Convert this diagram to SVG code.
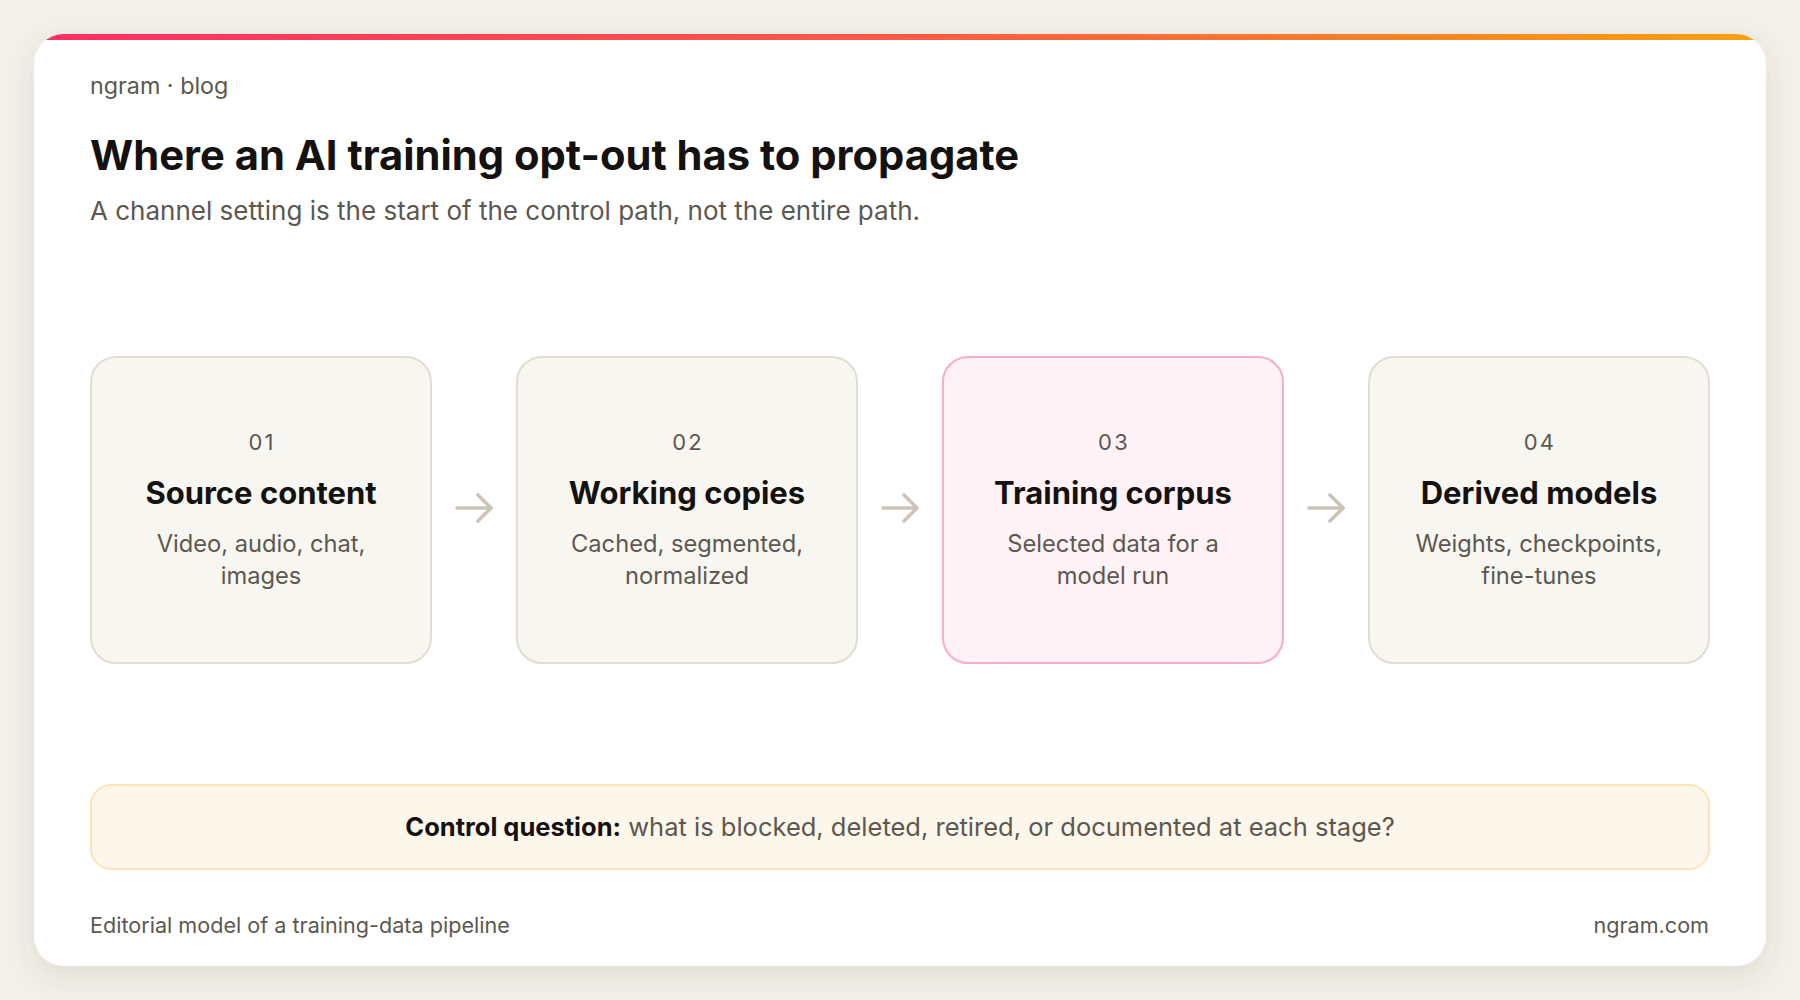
<svg xmlns="http://www.w3.org/2000/svg" width="1800" height="1000" viewBox="0 0 1800 1000">
  <defs>
    <linearGradient id="stripe" x1="0" y1="0" x2="1" y2="0">
      <stop offset="0" stop-color="#ff2d63"/>
      <stop offset="0.5" stop-color="#ff5a45"/>
      <stop offset="1" stop-color="#f7a10f"/>
    </linearGradient>
    <filter id="shadow" x="-10%" y="-10%" width="120%" height="130%">
      <feDropShadow dx="0" dy="10" stdDeviation="14" flood-color="#5a4a30" flood-opacity="0.12"/>
    </filter>
    <clipPath id="cardclip">
      <rect x="34" y="34" width="1732" height="932" rx="30"/>
    </clipPath>
    <marker id="arrowhead" viewBox="0 0 20 30" refX="16" refY="15" markerWidth="20" markerHeight="30" markerUnits="userSpaceOnUse" orient="auto">
      <path d="M3 2 L16 15 L3 28" fill="none" stroke="#cbc4b7" stroke-width="3.6" stroke-linecap="round" stroke-linejoin="round"/>
    </marker>
  </defs>
  <style>
    text { font-family: Inter, "Liberation Sans", "DejaVu Sans", sans-serif; }
    .brand { font-size: 23.3px; fill: #5c5850; }
    .title { font-size: 41.7px; font-weight: 700; fill: #141210; }
    .sub { font-size: 26px; fill: #5c5850; }
    .box { fill: #f8f6f1; stroke: #e2ddd4; stroke-width: 2; }
    .box.hl { fill: #fff2f6; stroke: #f9adc6; }
    .num { font-size: 22px; fill: #5c5850; text-anchor: middle; letter-spacing: 2.2px; }
    .ntitle { font-size: 31px; font-weight: 700; fill: #141210; text-anchor: middle; }
    .desc { font-size: 23.7px; fill: #5c5850; text-anchor: middle; }
    .conn { stroke: #cbc4b7; stroke-width: 3.6; stroke-linecap: round; fill: none; }
    .ctrl { fill: #fdf6ea; stroke: #fce3b8; stroke-width: 2; }
    .ctext { font-size: 25.5px; fill: #5c5850; text-anchor: middle; }
    .foot { font-size: 21.6px; fill: #5c5850; }
  </style>

  <rect x="0" y="0" width="1800" height="1000" fill="#f3f0ea"/>

  <g id="card">
    <rect x="34" y="34" width="1732" height="932" rx="30" fill="#ffffff" filter="url(#shadow)"/>
    <rect x="34" y="34" width="1732" height="6" fill="url(#stripe)" clip-path="url(#cardclip)"/>
  </g>

  <g id="header">
    <text class="brand" x="90" y="94">ngram · blog</text>
    <text class="title" x="90" y="170">Where an AI training opt-out has to propagate</text>
    <text class="sub" x="90" y="220">A channel setting is the start of the control path, not the entire path.</text>
  </g>

  <g id="connectors">
    <line class="conn" x1="457" y1="508" x2="491" y2="508" marker-end="url(#arrowhead)"/>
    <line class="conn" x1="883" y1="508" x2="917" y2="508" marker-end="url(#arrowhead)"/>
    <line class="conn" x1="1309" y1="508" x2="1343" y2="508" marker-end="url(#arrowhead)"/>
  </g>

  <g id="node-01">
    <rect class="box" x="91" y="357" width="340" height="306" rx="25"/>
    <text class="num" x="262" y="450">01</text>
    <text class="ntitle" x="261" y="504">Source content</text>
    <text class="desc" x="261" y="552">Video, audio, chat,</text>
    <text class="desc" x="261" y="584">images</text>
  </g>

  <g id="node-02">
    <rect class="box" x="517" y="357" width="340" height="306" rx="25"/>
    <text class="num" x="688" y="450">02</text>
    <text class="ntitle" x="687" y="504">Working copies</text>
    <text class="desc" x="687" y="552">Cached, segmented,</text>
    <text class="desc" x="687" y="584">normalized</text>
  </g>

  <g id="node-03">
    <rect class="box hl" x="943" y="357" width="340" height="306" rx="25"/>
    <text class="num" x="1114" y="450">03</text>
    <text class="ntitle" x="1113" y="504">Training corpus</text>
    <text class="desc" x="1113" y="552">Selected data for a</text>
    <text class="desc" x="1113" y="584">model run</text>
  </g>

  <g id="node-04">
    <rect class="box" x="1369" y="357" width="340" height="306" rx="25"/>
    <text class="num" x="1540" y="450">04</text>
    <text class="ntitle" x="1539" y="504">Derived models</text>
    <text class="desc" x="1539" y="552">Weights, checkpoints,</text>
    <text class="desc" x="1539" y="584">fine-tunes</text>
  </g>

  <g id="control">
    <rect class="ctrl" x="91" y="785" width="1618" height="84" rx="20"/>
    <text class="ctext" x="900" y="836"><tspan font-weight="700" fill="#141210">Control question:</tspan> what is blocked, deleted, retired, or documented at each stage?</text>
  </g>

  <g id="footer">
    <text class="foot" x="90" y="933">Editorial model of a training-data pipeline</text>
    <text class="foot" x="1709" y="933" text-anchor="end">ngram.com</text>
  </g>
</svg>
